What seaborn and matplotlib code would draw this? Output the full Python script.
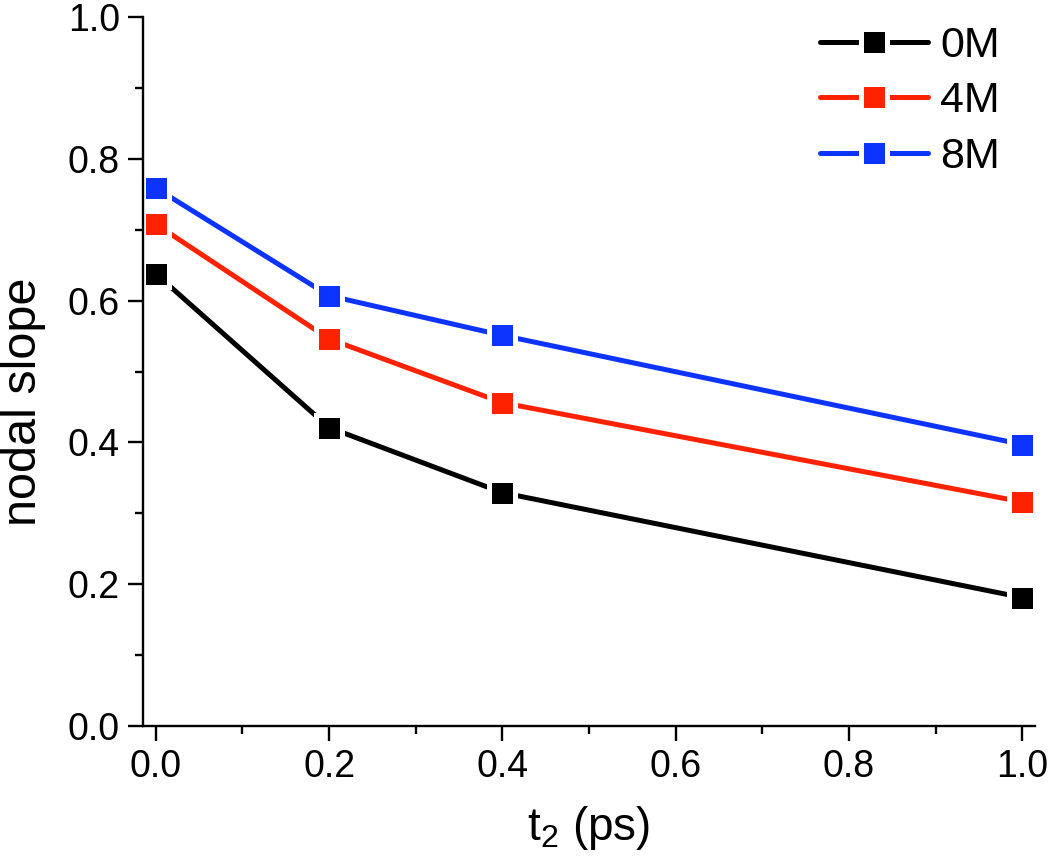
"""Nodal slope vs waiting time t2 for three concentrations."""

import matplotlib

matplotlib.use("Agg")
import matplotlib.pyplot as plt
import pandas as pd
import seaborn as sns
from matplotlib.ticker import FormatStrFormatter, MultipleLocator

# data
T2_PS = [0.0, 0.2, 0.4, 1.0]
SLOPE_0M = [0.638, 0.421, 0.329, 0.181]
SLOPE_4M = [0.708, 0.546, 0.456, 0.316]
SLOPE_8M = [0.759, 0.607, 0.551, 0.397]
SERIES_LABELS = ["0M", "4M", "8M"]
SERIES_COLORS = ["#000000", "#ff2200", "#0d33ff"]


def main() -> None:
    sns.set_style("ticks")
    plt.rcParams["font.family"] = ["Liberation Sans", "DejaVu Sans"]
    plt.rcParams["mathtext.fontset"] = "custom"
    plt.rcParams["mathtext.rm"] = "Liberation Sans"
    plt.rcParams["mathtext.default"] = "regular"
    plt.rcParams["text.color"] = "black"
    plt.rcParams["axes.labelcolor"] = "black"

    df = pd.DataFrame(
        {
            "t2": T2_PS * 3,
            "slope": SLOPE_0M + SLOPE_4M + SLOPE_8M,
            "conc": [lab for lab in SERIES_LABELS for _ in T2_PS],
        }
    )

    fig = plt.figure(figsize=(10.5, 8.61), dpi=100)
    ax = fig.add_axes([0.136, 0.157, 0.850, 0.823])

    for label, color in zip(SERIES_LABELS, SERIES_COLORS):
        sub = df[df["conc"] == label]
        sns.lineplot(
            data=sub,
            x="t2",
            y="slope",
            color=color,
            marker="s",
            markersize=18.7,
            markeredgewidth=3.6,
            markeredgecolor="white",
            markerfacecolor=color,
            linewidth=3.6,
            label=label,
            ax=ax,
        )

    ax.set_xlim(-0.015, 1.015)
    ax.set_ylim(0.0, 1.0)
    ax.xaxis.set_major_locator(MultipleLocator(0.2))
    ax.xaxis.set_minor_locator(MultipleLocator(0.1))
    ax.yaxis.set_major_locator(MultipleLocator(0.2))
    ax.yaxis.set_minor_locator(MultipleLocator(0.1))
    ax.xaxis.set_major_formatter(FormatStrFormatter("%.1f"))
    ax.yaxis.set_major_formatter(FormatStrFormatter("%.1f"))

    sns.despine(ax=ax)
    for side in ["left", "bottom"]:
        ax.spines[side].set_linewidth(1.7)
        ax.spines[side].set_color("black")
    ax.tick_params(which="major", direction="out", length=10.5, width=1.7,
                   labelsize=27, colors="black", pad=6)
    ax.tick_params(which="minor", direction="out", length=5.5, width=1.7, colors="black")

    ax.set_xlabel("t$_2$ (ps)", fontsize=33, labelpad=14)
    ax.set_ylabel("nodal slope", fontsize=35)
    ax.yaxis.set_label_coords(-0.108, 0.457)

    handles, labels = ax.get_legend_handles_labels()
    ax.legend(
        handles,
        labels,
        loc="upper right",
        bbox_to_anchor=(0.98, 1.012),
        frameon=False,
        fontsize=31,
        handlelength=2.5,
        handletextpad=0.3,
        labelspacing=0.36,
        borderaxespad=0.0,
    )

    fig.savefig("out.png", dpi=100)
    plt.close(fig)


if __name__ == "__main__":
    main()
